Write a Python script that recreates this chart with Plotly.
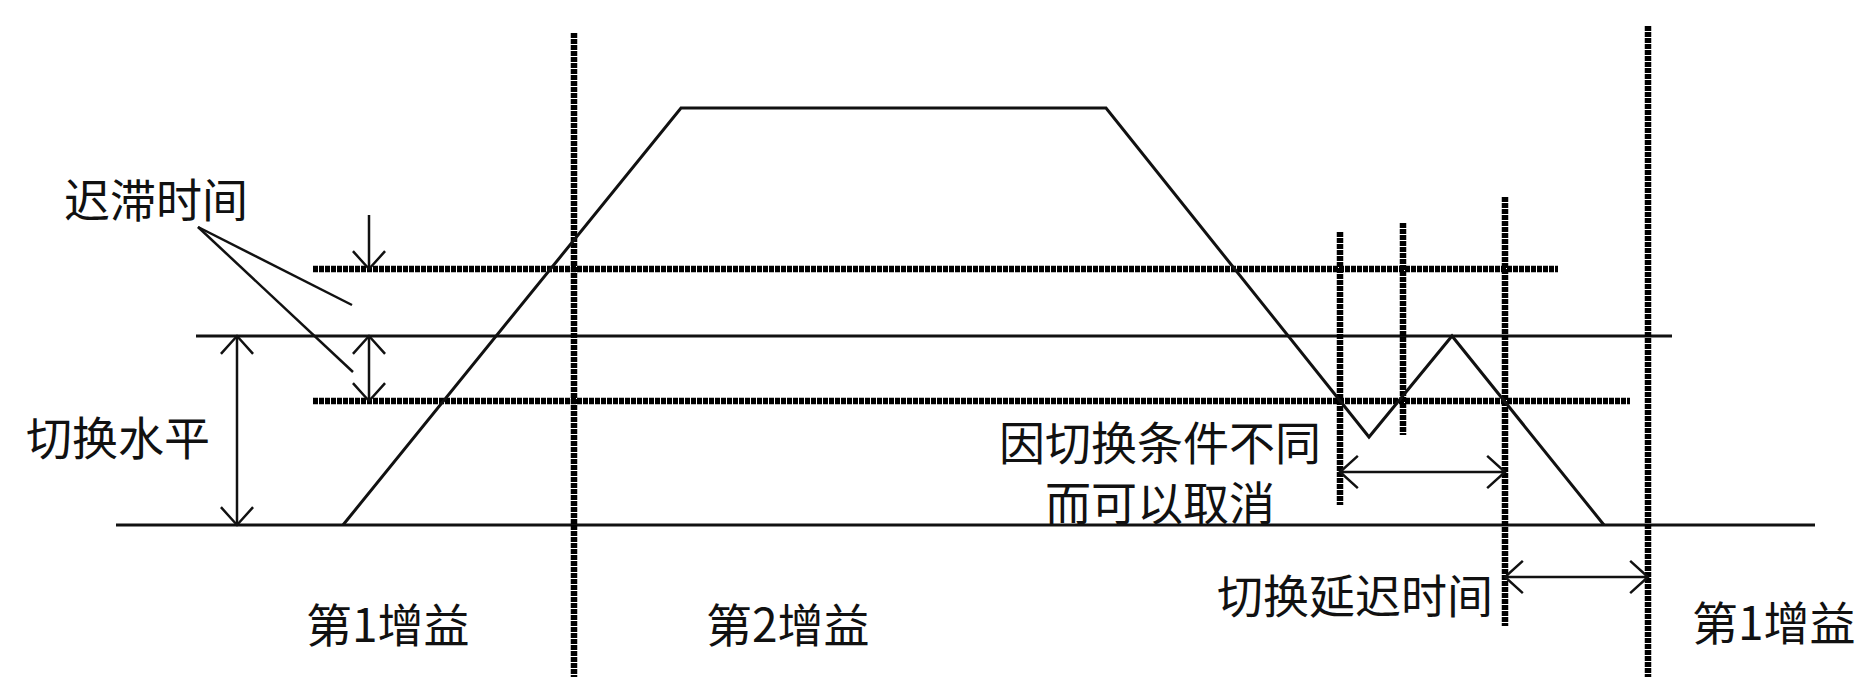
import math
import plotly.graph_objects as go

W, H = 1864, 677

# ---- waveform (diagram units = pixels of the drawing) ----
wave_x = [343, 681, 1106, 1369, 1452, 1604]
wave_y = [525, 108, 108, 437, 336, 525]

# ---- solid horizontal lines: switching level, baseline ----
solid_h_y = [336, 525]
solid_h_x0 = [196, 116]
solid_h_x1 = [1672, 1815]

# ---- dotted horizontal lines: hysteresis band ----
dotted_h_y = [269, 401]
dotted_h_x0 = [313, 313]
dotted_h_x1 = [1558, 1630]

# ---- dotted vertical lines ----
dotted_v_x = [574, 1340, 1403, 1505, 1648]
dotted_v_y0 = [33, 232, 223, 197, 26]
dotted_v_y1 = [677, 505, 435, 626, 677]

# ---- dimension arrows ----
arrow_x0 = [237, 369, 369, 1340, 1505]
arrow_y0 = [336, 215, 336, 472, 577]
arrow_x1 = [237, 369, 369, 1505, 1648]
arrow_y1 = [525, 269, 401, 472, 577]
arrow_head_start = [True, False, True, True, True]
arrow_head_end = [True, True, True, True, True]

# ---- leader lines from label ----
leader_x0 = [198, 198]
leader_y0 = [227, 227]
leader_x1 = [352, 353]
leader_y1 = [305, 372]

# ---- labels ----
label_text = ["迟滞时间", "切换水平", "第1增益", "第2增益",
              "因切换条件不同<br>而可以取消", "切换延迟时间", "第1增益"]
label_x = [156, 118, 388, 788, 1160, 1495, 1690]
label_y = [197, 435, 622, 622, 470, 593, 620]
label_anchor = ["center", "center", "center", "center",
                "center", "right", "left"]

INK = "#111111"
FONT = "Noto Sans CJK SC"


def seg_xy(x0s, y0s, x1s, y1s):
    xs, ys = [], []
    for a, b, c, d in zip(x0s, y0s, x1s, y1s):
        xs += [a, c, None]
        ys += [b, d, None]
    return xs, ys


def head(tx, ty, fx, fy, L=24, ang=42):
    dx, dy = tx - fx, ty - fy
    n = math.hypot(dx, dy)
    ux, uy = dx / n, dy / n
    px, py = -uy, ux
    ca, sa = math.cos(math.radians(ang)), math.sin(math.radians(ang))
    xs = [tx - L * (ca * ux + sa * px), tx, tx - L * (ca * ux - sa * px), None]
    ys = [ty - L * (ca * uy + sa * py), ty, ty - L * (ca * uy - sa * py), None]
    return xs, ys


fig = go.Figure()

# solid horizontals
hx, hy = seg_xy(solid_h_x0, solid_h_y, solid_h_x1, solid_h_y)
fig.add_trace(go.Scatter(x=hx, y=hy, mode="lines",
                         line=dict(color=INK, width=3), hoverinfo="skip"))

DOT = dict(color="#000000", width=6.5, dash="5px,1px")

# dotted horizontals
dx_, dy_ = seg_xy(dotted_h_x0, dotted_h_y, dotted_h_x1, dotted_h_y)
fig.add_trace(go.Scatter(x=dx_, y=dy_, mode="lines", line=DOT,
                         hoverinfo="skip"))

# dotted verticals
vx, vy = seg_xy(dotted_v_x, dotted_v_y0, dotted_v_x, dotted_v_y1)
fig.add_trace(go.Scatter(x=vx, y=vy, mode="lines", line=DOT,
                         hoverinfo="skip"))

# waveform
fig.add_trace(go.Scatter(x=wave_x, y=wave_y, mode="lines",
                         line=dict(color=INK, width=3), hoverinfo="skip"))

# leader lines
lx, ly = seg_xy(leader_x0, leader_y0, leader_x1, leader_y1)
fig.add_trace(go.Scatter(x=lx, y=ly, mode="lines",
                         line=dict(color=INK, width=2.5), hoverinfo="skip"))

# arrows
ax, ay = seg_xy(arrow_x0, arrow_y0, arrow_x1, arrow_y1)
for x0, y0, x1, y1, hs, he in zip(arrow_x0, arrow_y0, arrow_x1, arrow_y1,
                                  arrow_head_start, arrow_head_end):
    if he:
        hx_, hy_ = head(x1, y1, x0, y0)
        ax += hx_
        ay += hy_
    if hs:
        hx_, hy_ = head(x0, y0, x1, y1)
        ax += hx_
        ay += hy_
fig.add_trace(go.Scatter(x=ax, y=ay, mode="lines",
                         line=dict(color=INK, width=2.5), hoverinfo="skip"))

for t, x, y, anc in zip(label_text, label_x, label_y, label_anchor):
    fig.add_annotation(x=x, y=y, text=t, showarrow=False, xanchor=anc,
                       yanchor="middle", align="center",
                       font=dict(family=FONT, size=46, color=INK))

fig.update_layout(
    width=W, height=H,
    margin=dict(l=0, r=0, t=0, b=0),
    paper_bgcolor="white", plot_bgcolor="white",
    showlegend=False,
    xaxis=dict(range=[0, W], visible=False, fixedrange=True),
    yaxis=dict(range=[H, 0], visible=False, fixedrange=True),
)

fig.write_html(
    "out.html",
    config={"displayModeBar": False, "staticPlot": True},
    post_script="document.body.style.margin='0';"
                "document.body.style.overflow='hidden';",
)
